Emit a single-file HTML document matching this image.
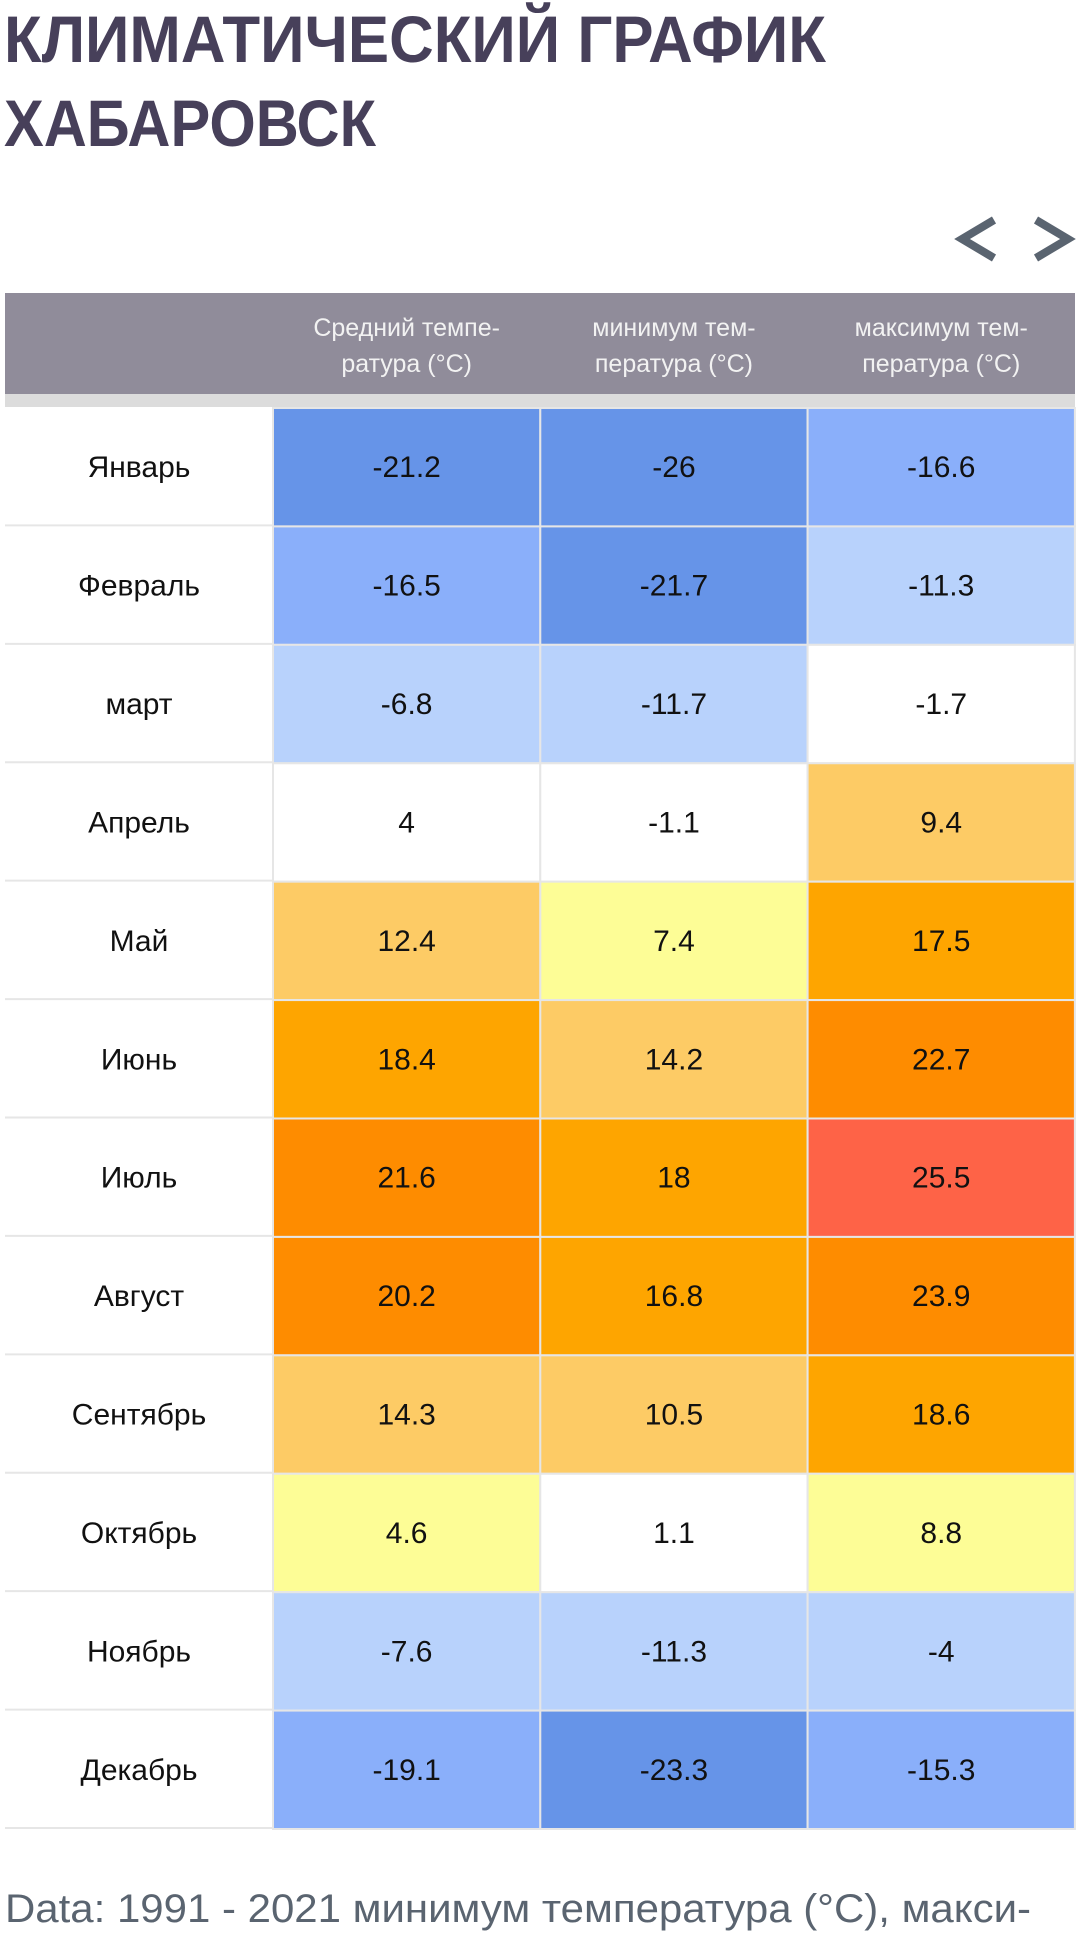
<!DOCTYPE html>
<html><head><meta charset="utf-8"><style>
body{margin:0;background:#fff;}
svg{display:block;font-family:"Liberation Sans",sans-serif;}
</style></head><body>
<svg id="c" width="1080" height="1953" viewBox="0 0 1080 1953">
<text x="4" y="62" font-size="66" font-weight="bold" fill="#47405a" textLength="822" lengthAdjust="spacingAndGlyphs">КЛИМАТИЧЕСКИЙ ГРАФИК</text>
<text x="4" y="146" font-size="66" font-weight="bold" fill="#47405a" textLength="372" lengthAdjust="spacingAndGlyphs">ХАБАРОВСК</text>
<polyline points="994,220 962,239 994,258" fill="none" stroke="#5a6470" stroke-width="8"/>
<polyline points="1036,220 1068,239 1036,258" fill="none" stroke="#5a6470" stroke-width="8"/>
<rect x="5" y="293" width="1070" height="101" fill="#908c9a"/>
<rect x="5" y="394" width="1070" height="13" fill="#dcdcdc"/>
<g id="hdr"></g>
<g id="cells"></g>
<text x="5" y="1922" font-size="40" fill="#5a6470" textLength="1026" lengthAdjust="spacingAndGlyphs">Data: 1991 - 2021 минимум температура (°C), макси-</text>
</svg>
<script>
const months = ["Январь","Февраль","март","Апрель","Май","Июнь","Июль","Август","Сентябрь","Октябрь","Ноябрь","Декабрь"];
const headers = [["Средний темпе-","ратура (°C)"],["минимум тем-","пература (°C)"],["максимум тем-","пература (°C)"]];
const avgTemp = [-21.2,-16.5,-6.8,4,12.4,18.4,21.6,20.2,14.3,4.6,-7.6,-19.1];
const minTemp = [-26,-21.7,-11.7,-1.1,7.4,14.2,18,16.8,10.5,1.1,-11.3,-23.3];
const maxTemp = [-16.6,-11.3,-1.7,9.4,17.5,22.7,25.5,23.9,18.6,8.8,-4,-15.3];
const series = [avgTemp,minTemp,maxTemp];
const NS="http://www.w3.org/2000/svg";
const top0=408, rowH=(1829-408)/12, labelX=5, labelW=268, colX0=273, colW=267.3;
function color(v){
  if(v<-20) return "#6694e8";
  if(v<-13) return "#8aaffa";
  if(v<-3) return "#b8d2fc";
  if(v<4.5) return "#ffffff";
  if(v<9) return "#fdfd96";
  if(v<15) return "#fdcb65";
  if(v<20) return "#fea500";
  if(v<25) return "#fe8c00";
  return "#fe6347";
}
function mk(tag,attrs,parent){const e=document.createElementNS(NS,tag);for(const k in attrs)e.setAttribute(k,attrs[k]);parent.appendChild(e);return e;}
const hdr=document.getElementById('hdr'), cells=document.getElementById('cells');
headers.forEach((h,j)=>{
  const cx=colX0+colW*j+colW/2;
  h.forEach((line,k)=>{
    const t=mk('text',{x:cx,y:336+k*36,'font-size':25,fill:'#f2f2f2','text-anchor':'middle'},hdr);
    
    
    t.textContent=line;
  });
});
months.forEach((m,i)=>{
  const y=top0+rowH*i;
  const ln=mk('line',{x1:5,x2:1075,y1:y+rowH-1,y2:y+rowH-1,stroke:'#e6e6e6','stroke-width':2},cells);
  
  
  const lt=mk('text',{x:labelX+labelW/2,y:y+rowH/2+10,'font-size':30,fill:'#111','text-anchor':'middle'},cells);
  
  
  lt.textContent=m;
  series.forEach((s,j)=>{
    const x=colX0+colW*j;
    const r=mk('rect',{x:x,y:y,width:colW,height:rowH,fill:color(s[i]),stroke:'#e6e6e6','stroke-width':2},cells);
    
    
    const t=mk('text',{x:x+colW/2,y:y+rowH/2+10,'font-size':30,fill:'#111','text-anchor':'middle'},cells);
    
    
    t.textContent=String(s[i]);
  });
});
</script>
</body></html>
